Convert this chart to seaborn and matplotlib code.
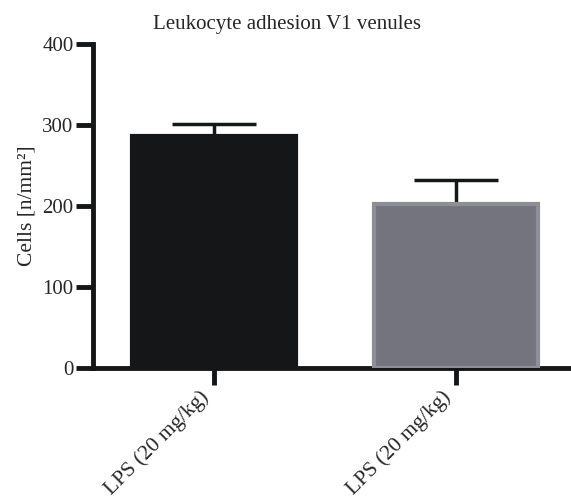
import pandas as pd
import numpy as np
import matplotlib
matplotlib.use('Agg')
import matplotlib.pyplot as plt
import matplotlib.transforms as mtransforms
import seaborn as sns

# chart values
groups = ['g1', 'g2']
tick_labels = ['LPS (20 mg/kg)', 'LPS (20 mg/kg)']
cells = [287, 203]
sem_upper = [14, 29]

data = pd.DataFrame({'group': groups, 'cells': cells})

sns.set_style('ticks')
plt.rcParams['font.family'] = ['Liberation Serif', 'DejaVu Serif']

fig = plt.figure(figsize=(5.71, 4.99), dpi=100)
ax = fig.add_axes([0.163, 0.2625, 0.835, 0.649])

sns.barplot(data=data, x='group', y='cells', hue='group',
            palette=['#141618', '#72737e'], width=0.68,
            legend=False, errorbar=None, ax=ax, zorder=3)

# edge colours: gray bar has a lighter rim
edges = ['#141618', '#8e8f96']
for patch, ec in zip(ax.patches, edges):
    patch.set_edgecolor(ec)
    patch.set_linewidth(3)

# upper-only error bars
ax.errorbar(range(len(groups)), cells, yerr=[np.zeros(len(cells)), sem_upper],
            fmt='none', ecolor='#141618', elinewidth=2.5, capsize=30,
            capthick=2.5, zorder=2)

ax.set_ylim(0, 400)
ax.set_yticks([0, 100, 200, 300, 400])
ax.set_xlim(-0.5, 1.47)
ax.set_xticks(range(len(groups)))
ax.set_xlabel('')
ax.set_ylabel('Cells [n/mm²]', fontsize=15.5, labelpad=4)
fig.suptitle('Leukocyte adhesion V1 venules', fontsize=15, x=0.503, y=0.97,
             va='top')

for side in ['top', 'right']:
    ax.spines[side].set_visible(False)
for side in ['left', 'bottom']:
    ax.spines[side].set_linewidth(3.5)
    ax.spines[side].set_color('#141618')
ax.tick_params(axis='both', length=12, width=3.5, color='#141618', pad=2)
ax.tick_params(axis='y', labelsize=15)

# rotated labels, nudged left of their ticks (after tick_params, which resets transforms)
ax.set_xticklabels(tick_labels, rotation=45, ha='right', rotation_mode='anchor',
                   fontsize=15.5)
shift = mtransforms.ScaledTranslation(-0.15, 0, fig.dpi_scale_trans)
for tick in ax.xaxis.get_major_ticks():
    tick.label1.set_transform(tick.label1.get_transform() + shift)

fig.savefig('out.png', dpi=100)
